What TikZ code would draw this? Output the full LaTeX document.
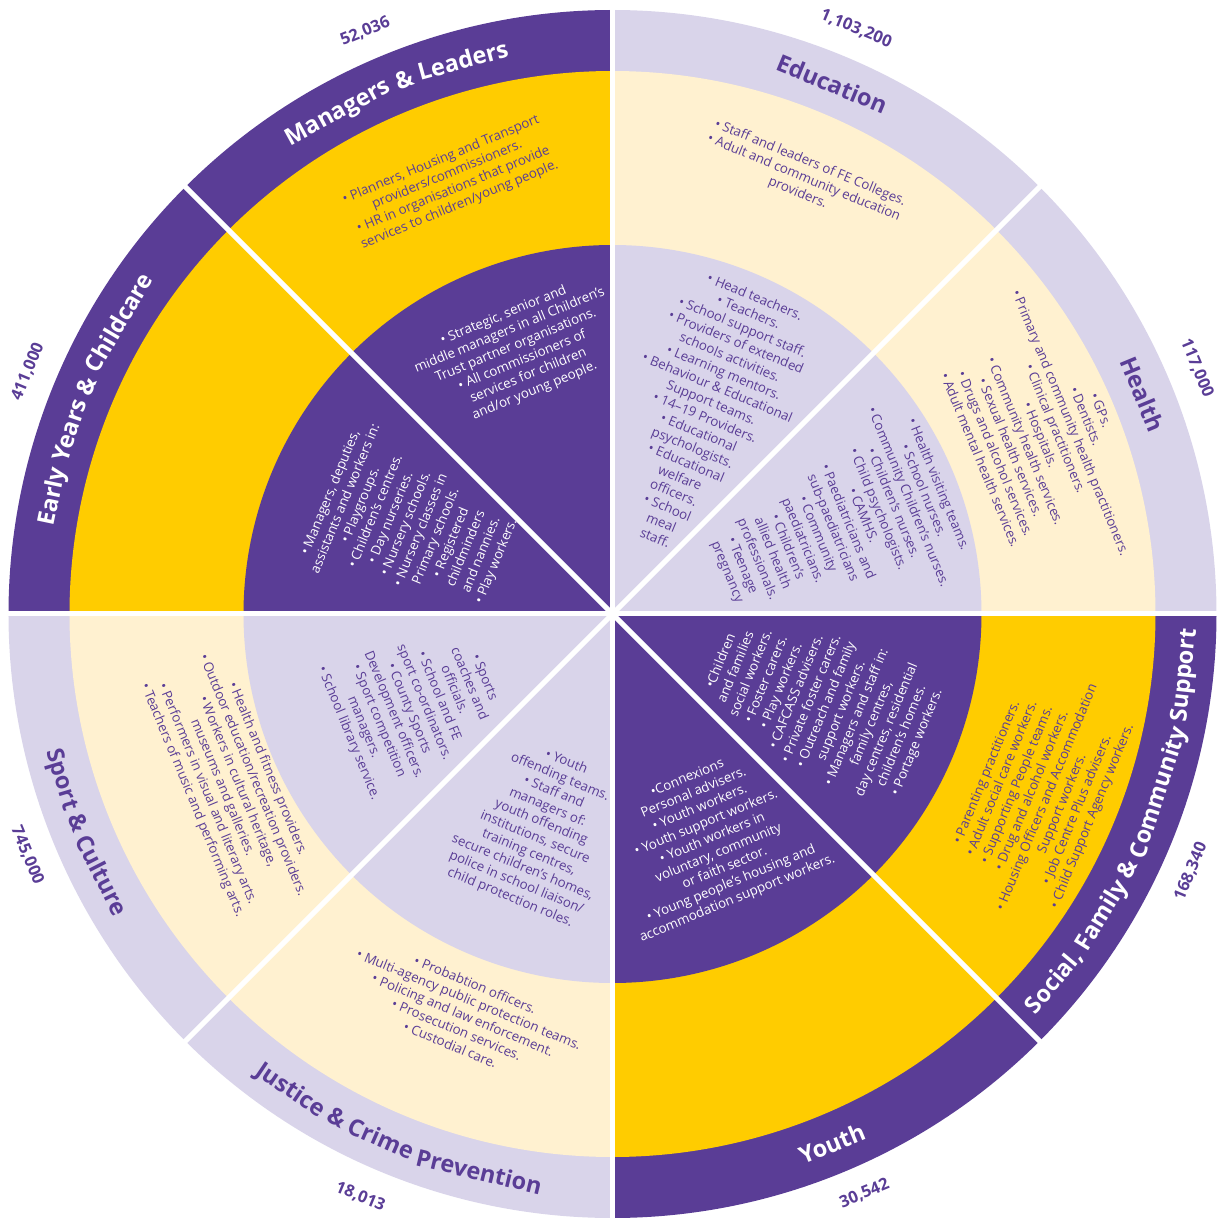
\documentclass[tikz,border=0pt]{standalone}
\usepackage{fontspec}
\setmainfont{Open Sans}
\definecolor{pur}{HTML}{5A3D96}
\definecolor{yel}{HTML}{FFCC00}
\definecolor{crm}{HTML}{FFF1D0}
\definecolor{lav}{HTML}{D9D4EA}
\font\tfprim="Open Sans/B" at 23.5pt
\font\numprim="Open Sans/B" at 16.5pt
\newlength\pfw \newlength\wdw \newlength\totw
\newcommand\ttlstart[4]{\def\ttR{#1}\def\ttC{#2}\def\ttD{#3}\settowidth\totw{\tfprim #4}}
\newcommand\ttlword[3]{%
  \settowidth\pfw{\tfprim #2}\settowidth\wdw{\tfprim #3}%
  \pgfmathsetmacro\ttA{\ttC + \ttD*(\totw/2 - \pfw - \wdw/2)/\ttR*180/pi}%
  \pgfmathsetmacro\ttRot{\ttA - \ttD*90}%
  \node[text=#1, font=\tfprim, inner sep=0pt, anchor=base, rotate=\ttRot] at (\ttA:\ttR pt) {#3};}
\begin{document}
\begin{tikzpicture}[x=1pt,y=1pt,
  blk/.style={align=center, inner sep=0pt, font=\fontsize{13.3}{16.3}\selectfont},
  wt/.style={text=white}, pt/.style={text=pur},
  num/.style={text=pur, inner sep=0pt, font=\numprim}]
\useasboundingbox (-612.5,-604) rectangle (604.5,614);
% sectors
\foreach \aa/\co/\cm/\ci in {90/pur/yel/pur, 45/lav/crm/lav, 0/lav/crm/lav, -45/pur/yel/pur,
  -90/pur/yel/pur, -135/lav/crm/lav, 180/lav/crm/lav, 135/pur/yel/pur}{
  \fill[\co] (0,0) -- (\aa:604pt) arc[start angle=\aa, end angle=\aa+45, radius=604pt] -- cycle;
  \fill[\cm] (0,0) -- (\aa:543pt) arc[start angle=\aa, end angle=\aa+45, radius=543pt] -- cycle;
  \fill[\ci] (0,0) -- (\aa:369pt) arc[start angle=\aa, end angle=\aa+45, radius=369pt] -- cycle;
}
\foreach \aa in {0,45,...,315}{
  \draw[white, line width=5pt] (0,0) -- (\aa:640pt);
}
% titles
\ttlstart{565}{112.5}{1}{Managers \&{} Leaders}
\ttlword{white}{}{Managers}\ttlword{white}{Managers }{\&}\ttlword{white}{Managers \&{} }{Leaders}
\ttlstart{565}{67.5}{1}{Education}
\ttlword{pur}{}{Education}
\ttlstart{565}{22.5}{1}{Health}
\ttlword{pur}{}{Health}
\ttlstart{565}{157.5}{1}{Early Years \&{} Childcare}
\ttlword{white}{}{Early}\ttlword{white}{Early }{Years}\ttlword{white}{Early Years }{\&}\ttlword{white}{Early Years \&{} }{Childcare}
\ttlstart{582}{-22.5}{-1}{Social, Family \&{} Community Support}
\ttlword{white}{}{Social,}\ttlword{white}{Social, }{Family}\ttlword{white}{Social, Family }{\&}\ttlword{white}{Social, Family \&{} }{Community}\ttlword{white}{Social, Family \&{} Community }{Support}
\ttlstart{582}{-67.5}{-1}{Youth}
\ttlword{white}{}{Youth}
\ttlstart{582}{-112.5}{-1}{Justice \&{} Crime Prevention}
\ttlword{pur}{}{Justice}\ttlword{pur}{Justice }{\&}\ttlword{pur}{Justice \&{} }{Crime}\ttlword{pur}{Justice \&{} Crime }{Prevention}
\ttlstart{582}{202.5}{-1}{Sport \&{} Culture}
\ttlword{pur}{}{Sport}\ttlword{pur}{Sport }{\&}\ttlword{pur}{Sport \&{} }{Culture}
% numbers
\node[num, rotate=22.5] (n1) at (113:633pt) {52,036};
\node[num, rotate=-22.5] (n2) at (67.4:634pt) {1,103,200};
\node[num, rotate=-67.5] (n3) at (22.8:634pt) {117,000};
\node[num, rotate=67.5] (n4) at (-24:633pt) {168,340};
\node[num, rotate=22.5] (n5) at (-66.5:632pt) {30,542};
\node[num, rotate=-22.5] (n6) at (-113.4:635pt) {18,013};
\node[num, rotate=-67.5] (n7) at (202.4:633pt) {745,000};
\node[num, rotate=67.5] (n8) at (157.5:633pt) {411,000};
% Managers
\node[blk, wt, rotate=22.5] (mi) at (109.7:277pt) {• Strategic, senior and\\middle managers in all Children’s\\Trust partner organisations.\\• All commissioners of\\services for children\\and/or young people.};
\node[blk, pt, rotate=22.5] (mm) at (110.6:461pt) {• Planners, Housing and Transport\\providers/commissioners.\\• HR in organisations that provide\\services to children/young people.};
% Early years
\node[blk, wt, rotate=67.5] (ei) at (156.4:217pt) {• Managers, deputies,\\assistants and workers in:\\• Playgroups.\\• Children’s centres.\\• Day nurseries.\\• Nursery schools.\\• Nursery classes in\\Primary schools.\\• Registered\\childminders\\and nannies.\\• Play workers.};
% Education
\node[blk, pt, rotate=-22.5] (dm) at (66.3:476pt) {• Staff and leaders of FE Colleges.\\• Adult and community education\\providers.};
\node[blk, pt, rotate=-22.5] (di) at (64.8:217.6pt) {• Head teachers.\\• Teachers.\\• School support staff.\\• Providers of extended\\schools activities.\\• Learning mentors.\\• Behaviour \& Educational\\Support teams.\\• 14–19 Providers.\\• Educational\\psychologists.\\• Educational\\welfare\\officers.\\• School\\meal\\staff.};
% Health
\node[blk, pt, rotate=-67.5] (hm) at (22.7:464pt) {• GPs.\\• Dentists.\\• Primary and community health practitioners.\\• Clinical practitioners.\\• Hospitals.\\• Community health services.\\• Sexual health services.\\• Drugs and alcohol services.\\• Adult mental health services.};
\node[blk, pt, rotate=-67.5] (hi) at (21.3:236pt) {• Health visiting teams.\\• School nurses.\\• Community Children’s nurses.\\• Children’s nurses.\\• Child psychologists.\\• CAMHS.\\• Paediatricians and\\sub-paediatricians\\• Community\\paediatricians.\\• Children’s\\allied health\\professionals.\\• Teenage\\pregnancy};
% Social
\node[blk, pt, rotate=67.5] (sm) at (-22.9:464pt) {• Parenting practitioners.\\• Adult social care workers.\\• Supporting People teams.\\• Drug and alcohol workers.\\• Housing Officers and Accommodation\\Support workers.\\• Job Centre Plus advisers.\\• Child Support Agency workers.};
\node[blk, wt, rotate=67.5] (si) at (-23:224.6pt) {•Children\\and families\\social workers.\\• Foster carers.\\• Play workers.\\• CAFCASS advisers.\\• Private foster carers.\\• Outreach and family\\support workers.\\• Managers and staff in:\\family centres,\\day centres, residential\\children’s homes.\\• Portage workers.};
% Youth
\node[blk, wt, rotate=22.5] (yi) at (-66:245.8pt) {•Connexions\\Personal advisers.\\• Youth workers.\\• Youth support workers.\\• Youth workers in\\voluntary, community\\or faith sector.\\• Young people’s housing and\\accommodation support workers.};
% Justice
\node[blk, pt, rotate=-22.5] (ji) at (-109:228.5pt) {• Youth\\offending teams.\\• Staff and\\managers of:\\youth offending\\institutions, secure\\training centres,\\secure children’s homes,\\police in school liaison/\\child protection roles.};
\node[blk, pt, rotate=-22.5] (jm) at (-110.5:427.6pt) {• Probabtion officers.\\• Multi-agency public protection teams.\\• Policing and law enforcement.\\• Prosecution services.\\• Custodial care.};
% Sport
\node[blk, pt, rotate=-67.5] (pi) at (205:216.8pt) {• Sports\\coaches and\\officials.\\• School and FE\\sport co-ordinators.\\• County Sports\\Development officers.\\• Sport competition\\managers.\\• School library service.};
\node[blk, pt, rotate=-67.5] (pm) at (204:419pt) {• Health and fitness providers.\\• Outdoor education/recreation providers.\\• Workers in cultural heritage,\\museums and galleries.\\• Performers in visual and literary arts.\\• Teachers of music and performing arts.};
\end{tikzpicture}
\end{document}
